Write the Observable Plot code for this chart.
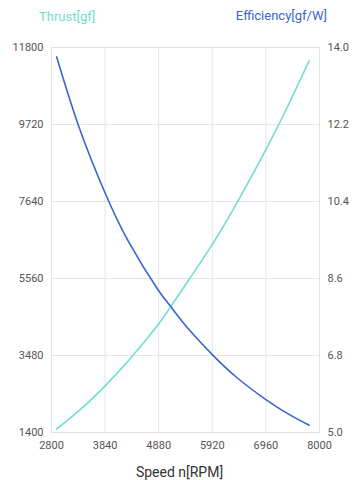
<!DOCTYPE html>
<html>
<head>
<meta charset="utf-8">
<script src="https://cdn.jsdelivr.net/npm/d3@7"></script>
<script src="https://cdn.jsdelivr.net/npm/@observablehq/plot@0.6"></script>
<style>
  html, body { margin: 0; padding: 0; background: #fff; }
  #wrap { position: relative; width: 357px; height: 480px; font-family: Roboto, "Noto Sans", sans-serif; }
  .ttl { position: absolute; font-size: 13px; white-space: nowrap; }
  #xl { position: absolute; font-size: 14px; color: #333; top: 464px; left: 0; width: 357px; text-align: center; }
  svg { display: block; }
</style>
</head>
<body>
<div id="wrap">
  <div class="ttl" id="t1" style="left:39px; top:9px; color:#6fded3;">Thrust[gf]</div>
  <div class="ttl" id="t2" style="right:30px; top:8px; color:#3a64cf;">Efficiency[gf/W]</div>
  <div id="xl"><span style="position:relative; left:1px;">Speed n[RPM]</span></div>
</div>
<script>
// Thrust curve (rpm, gf)
const thrustRpm = [2900, 3400, 3840, 4300, 4860, 5110, 5400, 5920, 6400, 6960, 7400, 7800];
const thrustVal = [1490, 2070, 2660, 3350, 4300, 4790, 5390, 6480, 7610, 9040, 10260, 11440];
// Efficiency curve (rpm, gf/W)
const effRpm = [2900, 3340, 3840, 4300, 4860, 5110, 5400, 5920, 6400, 6960, 7400, 7800];
const effVal = [13.78, 12.12, 10.6, 9.45, 8.35, 7.95, 7.5, 6.82, 6.28, 5.77, 5.43, 5.17];
// Tick labels
const xTicks = [2800, 3840, 4880, 5920, 6960, 8000];
const thrustTicks = [1400, 3480, 5560, 7640, 9720, 11800];
const effTicks = [5.0, 6.8, 8.6, 10.4, 12.2, 14.0];

const tMin = 1400, tMax = 11800, eMin = 5, eMax = 14;
const effToThrust = e => tMin + (e - eMin) / (eMax - eMin) * (tMax - tMin);
const thrustToEff = t => eMin + (t - tMin) / (tMax - tMin) * (eMax - eMin);

const thrustData = thrustRpm.map((r, i) => ({rpm: r, v: thrustVal[i]}));
const effData = effRpm.map((r, i) => ({rpm: r, v: effVal[i]}));

const chart = Plot.plot({
  width: 357,
  height: 480,
  marginLeft: 51,
  marginRight: 38,
  marginTop: 47,
  marginBottom: 48,
  style: {fontFamily: "Roboto, 'Noto Sans', sans-serif", fontSize: "11px", color: "#555", background: "#fff"},
  x: {domain: [2800, 8000]},
  y: {domain: [tMin, tMax]},
  marks: [
    Plot.gridX(xTicks, {stroke: "#e6e6e6", strokeOpacity: 1}),
    Plot.gridY(thrustTicks, {stroke: "#e6e6e6", strokeOpacity: 1}),
    Plot.frame({stroke: "#e3e3e3"}),
    Plot.axisX(xTicks, {tickSize: 0, tickPadding: 9, label: null, fill: "#555", tickFormat: d => String(d)}),
    Plot.axisY(thrustTicks, {tickSize: 0, tickPadding: 8, label: null, fill: "#555", tickFormat: d => String(d)}),
    Plot.axisY(effTicks.map(effToThrust), {anchor: "right", tickSize: 0, tickPadding: 8, label: null, fill: "#555",
      tickFormat: d => thrustToEff(d).toFixed(1)}),
    Plot.line(thrustData, {x: "rpm", y: "v", stroke: "#6fded3", strokeWidth: 1.6, curve: "natural"}),
    Plot.line(effData, {x: "rpm", y: d => effToThrust(d.v), stroke: "#3a64cf", strokeWidth: 1.6, curve: "natural"})
  ]
});
document.getElementById("wrap").prepend(chart);
chart.style.position = "absolute";
chart.style.left = "0";
chart.style.top = "0";
</script>
</body>
</html>
